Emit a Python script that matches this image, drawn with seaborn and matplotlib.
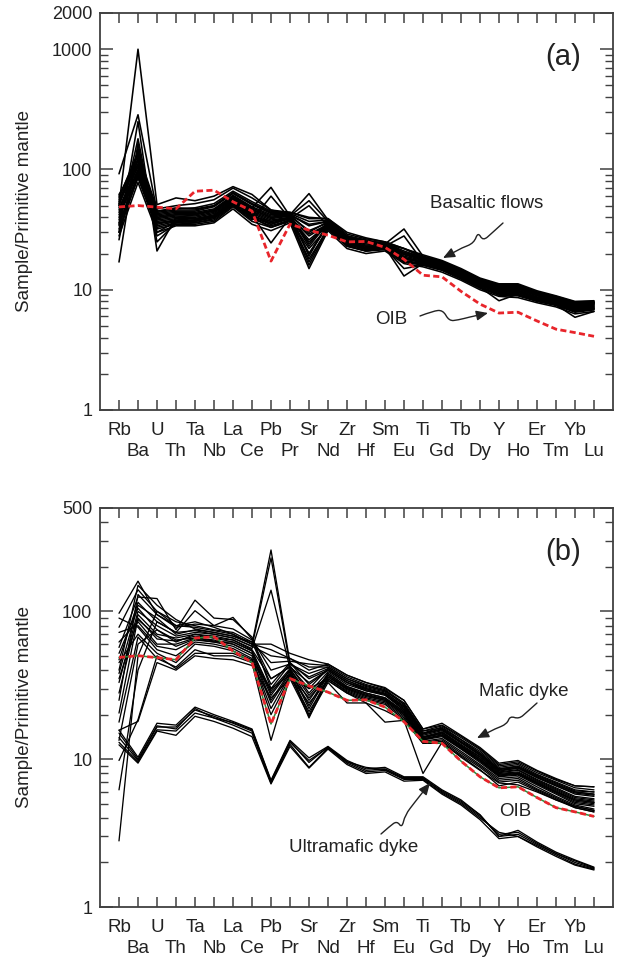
import numpy as np
import pandas as pd
import matplotlib
matplotlib.use("Agg")
import matplotlib.pyplot as plt
import seaborn as sns
from matplotlib.path import Path
from matplotlib.patches import FancyArrowPatch
from matplotlib.ticker import LogLocator, NullFormatter, FixedLocator, FixedFormatter

# ---------------- data ----------------
elements = ["Rb", "Ba", "U", "Th", "Ta", "Nb", "La", "Ce", "Pb", "Pr", "Sr", "Nd", "Zr",
            "Hf", "Sm", "Eu", "Ti", "Gd", "Tb", "Dy", "Y", "Ho", "Er", "Tm", "Yb", "Lu"]

oib = [48.8, 50.1, 48.6, 47.1, 65.9, 67.3, 53.9, 45.1, 17.3, 35.1, 31.3, 28.4, 25.0,
       25.2, 22.5, 17.9, 13.2, 12.8, 9.7, 7.6, 6.4, 6.5, 5.5, 4.7, 4.4, 4.1]

basaltic_flows = {
    "BF01": [28, 78, 30, 34, 34, 36, 47, 35, 31, 36, 15, 31, 22, 20, 21, 16.5, 15.5, 14.0, 12.0, 10.0, 8.8, 8.6, 7.8, 7.2, 6.3, 6.6],
    "BF02": [32, 85, 32, 35, 35, 37, 49, 37, 33, 37, 18, 32, 23, 21, 21.5, 17, 16, 14.5, 12.3, 10.3, 9.0, 8.9, 8.0, 7.4, 6.5, 6.8],
    "BF03": [36, 90, 33, 36, 36, 39, 51, 39, 34, 38, 22, 33, 24, 21.5, 22, 17.5, 16.5, 14.8, 12.6, 10.6, 9.3, 9.2, 8.2, 7.6, 6.7, 7.0],
    "BF04": [40, 95, 35, 38, 37, 40, 53, 41, 36, 39, 25, 34, 24.5, 22, 22.5, 18, 16.8, 15.1, 12.9, 10.9, 9.6, 9.5, 8.4, 7.8, 6.9, 7.1],
    "BF05": [44, 100, 37, 39, 39, 42, 55, 43, 37, 40, 28, 35, 25, 23, 23, 18.5, 17.2, 15.5, 13.2, 11.1, 9.9, 9.8, 8.7, 8.0, 7.1, 7.3],
    "BF06": [48, 105, 39, 41, 41, 44, 57, 45, 39, 41, 31, 36, 26, 23.5, 23.5, 19, 17.6, 15.9, 13.5, 11.4, 10.1, 10.1, 8.9, 8.2, 7.3, 7.5],
    "BF07": [52, 112, 41, 43, 43, 46, 60, 48, 41, 42, 34, 37, 27, 24.5, 24, 20, 18.0, 16.3, 13.9, 11.7, 10.4, 10.4, 9.1, 8.4, 7.5, 7.6],
    "BF08": [56, 120, 43, 45, 45, 49, 63, 51, 43, 43, 37, 38, 28, 25.5, 24.5, 21, 18.5, 16.8, 14.3, 12.0, 10.7, 10.7, 9.4, 8.6, 7.7, 7.8],
    "BF09": [60, 130, 45, 47, 48, 52, 66, 54, 45, 44, 39, 39, 29, 26.5, 25, 22, 19.0, 17.2, 14.7, 12.3, 11.0, 11.0, 9.6, 8.8, 7.9, 8.0],
    "BF10": [58, 140, 47, 50, 52, 56, 70, 58, 46, 44, 40, 39, 30, 27, 25, 22, 19.5, 17.5, 15.0, 12.5, 11.2, 11.2, 9.8, 8.9, 8.0, 8.1],
    "BF11": [50, 1000, 51, 58, 55, 60, 72, 62, 46, 42, 35, 37, 27, 25, 24, 20, 18, 16.5, 14, 11.8, 10.5, 10.5, 9.2, 8.5, 7.5, 7.7],
    "BF12": [92, 285, 45, 48, 47, 50, 64, 52, 44, 42, 63, 38, 28, 26, 24, 22, 18.5, 16.8, 14.2, 12, 10.8, 10.6, 9.3, 8.6, 7.6, 7.8],
    "BF13": [30, 250, 21, 40, 42, 46, 60, 48, 71, 41, 55, 37, 27, 25, 24, 32, 19, 17, 14.5, 12.2, 10.8, 10.8, 9.5, 8.7, 7.7, 7.9],
    "BF14": [17, 165, 25, 36, 38, 41, 55, 42, 24.5, 40, 20, 35, 25, 22, 22.5, 13, 16.5, 15, 12.5, 10.5, 8.1, 9.2, 8.1, 7.5, 5.9, 6.6],
    "BF15": [26, 150, 28, 35, 36, 38, 50, 38, 60, 39, 50, 34, 24, 22, 23, 28, 17, 15.5, 13, 11, 9.7, 9.6, 8.5, 7.8, 7.0, 7.2],
    "BF16": [35, 180, 30, 37, 37, 40, 52, 40, 35, 40, 17, 33, 23, 21, 22, 15, 16, 14.6, 12.4, 10.4, 9.2, 9.1, 8.1, 7.5, 6.6, 6.9],
    "BF17": [42, 98, 36, 37, 38, 41, 54, 42, 35, 39, 20, 34, 24, 22, 22, 17, 16.6, 15, 12.8, 10.8, 9.5, 9.3, 8.3, 7.7, 6.8, 7.0],
    "BF18": [46, 108, 38, 40, 40, 43, 56, 44, 38, 40, 26, 35, 25.5, 23, 23, 18.5, 17.3, 15.6, 13.3, 11.2, 9.9, 9.9, 8.7, 8.1, 7.2, 7.4],
    "BF19": [54, 118, 42, 44, 44, 47, 61, 49, 42, 42, 30, 37, 27.5, 25, 24, 20, 18.2, 16.5, 14.0, 11.8, 10.5, 10.5, 9.2, 8.5, 7.6, 7.7],
    "BF20": [38, 125, 40, 42, 43, 45, 58, 46, 40, 41, 23, 36, 26.5, 24, 23.5, 19.5, 17.8, 16.1, 13.7, 11.5, 10.2, 10.2, 9.0, 8.3, 7.4, 7.5],
    "BF21": [34, 92, 34, 37, 38, 40, 52, 40, 33, 38, 16, 32, 23.5, 21, 22, 17, 16.2, 14.7, 12.5, 10.5, 9.2, 9.0, 8.1, 7.5, 6.6, 6.9],
    "BF22": [50, 135, 44, 46, 46, 50, 64, 52, 44, 43, 19, 36, 27, 25, 24.5, 20.5, 18.6, 16.9, 14.4, 12.1, 10.8, 10.8, 9.5, 8.7, 7.8, 7.9],
    "BF23": [62, 110, 40, 42, 42, 45, 59, 47, 40, 42, 24, 37, 28, 25, 24, 19.8, 18.3, 16.6, 14.1, 11.9, 10.6, 10.6, 9.3, 8.6, 7.6, 7.8],
    "BF24": [30, 88, 36, 38, 39, 41, 53, 41, 37, 39, 29, 35, 25, 22.5, 23, 18.2, 17.0, 15.3, 13.0, 11.0, 9.8, 9.7, 8.6, 7.9, 7.0, 7.2],
}

mafic_dykes = {
    "MD01": [97, 160, 95, 80, 85, 78, 70, 60, 55, 48, 40, 44, 37, 33, 30, 25, 16, 17.5, 14.5, 12.0, 9.4, 9.8, 8.4, 7.4, 6.6, 6.5],
    "MD02": [78, 140, 100, 85, 80, 75, 72, 62, 45, 46, 44, 43, 36, 32, 29.5, 24, 15.5, 16.8, 14, 11.6, 9.0, 9.4, 8.1, 7.2, 6.4, 6.2],
    "MD03": [57, 125, 122, 75, 119, 90, 88, 67, 30, 44, 38, 42, 35, 31, 29, 23.5, 15, 16.5, 13.6, 11.3, 8.8, 9.2, 7.9, 7.0, 6.2, 6.0],
    "MD04": [47, 115, 85, 72, 101, 80, 76, 64, 35, 42, 30, 41, 34, 30, 28, 23, 15, 16, 13.2, 11, 8.6, 8.9, 7.7, 6.8, 6.0, 5.8],
    "MD05": [38, 110, 90, 70, 75, 72, 68, 60, 260, 45, 35, 40, 33, 29.5, 27.5, 22, 14.5, 15.6, 12.9, 10.7, 8.4, 8.7, 7.5, 6.6, 5.8, 5.6],
    "MD06": [33, 100, 80, 68, 72, 70, 66, 58, 230, 43, 28, 39, 32, 29, 27, 21.5, 14.2, 15.3, 12.6, 10.4, 8.2, 8.5, 7.3, 6.4, 5.6, 5.4],
    "MD07": [28, 95, 70, 66, 70, 68, 64, 56, 139, 41, 25, 38, 31, 28, 26, 21, 14, 15, 12.3, 10.1, 8.0, 8.2, 7.1, 6.2, 5.4, 5.2],
    "MD08": [20.5, 90, 65, 63, 68, 66, 62, 54, 28, 40, 22, 37, 30, 27, 25.5, 20.5, 13.7, 14.6, 12.0, 9.8, 7.8, 8.0, 6.9, 6.0, 5.2, 5.0],
    "MD09": [62, 85, 60, 60, 66, 64, 60, 52, 25, 39, 20, 36, 29.5, 26.5, 25, 20, 13.5, 14.2, 11.7, 9.5, 7.6, 7.8, 6.7, 5.8, 5.0, 4.8],
    "MD10": [72, 80, 58, 55, 64, 62, 58, 50, 24, 38, 19, 35, 29, 26, 24.5, 19.5, 13.2, 13.8, 11.3, 9.2, 7.4, 7.6, 6.5, 5.6, 4.9, 4.6],
    "MD11": [90, 78, 55, 50, 62, 60, 56, 48, 22, 37, 30, 35, 28.5, 25.5, 24, 19, 13, 13.5, 11, 9.0, 7.2, 7.4, 6.3, 5.5, 4.8, 4.5],
    "MD12": [45, 70, 52, 45, 60, 58, 54, 47, 20, 36, 24, 34, 28, 25, 23.5, 18.5, 12.8, 13.2, 10.7, 8.8, 7.0, 7.2, 6.2, 5.4, 4.7, 4.4],
    "MD13": [17.8, 67, 48, 42, 55, 50, 50, 45, 13.4, 36, 21, 34, 28, 24, 17.8, 18.3, 8.0, 13, 10.3, 8.4, 6.9, 6.7, 6.0, 5.3, 4.7, 4.4],
    "MD14": [15.7, 18, 45, 40, 50, 48, 47, 43, 26, 35, 19.5, 33, 24, 24, 21.3, 18.3, 12.8, 12.8, 10.5, 8.5, 6.6, 7.0, 6.1, 5.3, 4.8, 4.5],
    "MD15": [9.8, 18.5, 50, 41, 52, 52, 52, 46, 30, 37, 26, 36, 30, 27, 25, 20, 13.5, 14.5, 12, 9.8, 7.8, 8.0, 6.9, 6.0, 5.3, 5.1],
    "MD16": [2.8, 50, 100, 80, 78, 74, 70, 60, 60, 52, 47, 44, 37, 33, 30.5, 25, 16, 17, 14.3, 11.8, 9.2, 9.6, 8.3, 7.3, 6.6, 6.5],
    "MD17": [6.2, 40, 85, 72, 74, 70, 66, 58, 50, 48, 42, 42, 35, 31.5, 29, 23.5, 15.5, 16.2, 13.5, 11, 8.6, 9, 7.8, 6.9, 6.1, 6.0],
    "MD18": [13.4, 60, 75, 62, 70, 66, 64, 55, 35, 42, 33, 40, 33, 30, 27.5, 22.5, 14.8, 15.8, 13, 10.6, 8.3, 8.7, 7.5, 6.6, 5.9, 5.7],
    "MD19": [25, 130, 95, 78, 82, 80, 91, 65, 40, 44, 36, 41, 34, 30.5, 28.5, 22.5, 14.8, 16, 13, 10.8, 8.5, 8.8, 7.6, 6.7, 6.0, 5.8],
    "MD20": [40, 150, 110, 88, 76, 72, 68, 62, 32, 45, 32, 40, 33, 29, 27.5, 21.5, 14, 15.2, 12.4, 10.3, 8.1, 8.4, 7.2, 6.3, 5.5, 5.3],
    "MD21": [52, 105, 75, 64, 66, 63, 60, 52, 27, 40, 23, 38, 31, 28, 26, 21, 14, 14.8, 12.2, 10.0, 7.9, 8.1, 7.0, 6.1, 5.3, 5.1],
    "MD22": [35, 88, 68, 58, 65, 62, 62, 54, 29, 41, 27, 37, 30.5, 27.5, 25.5, 20.5, 13.8, 14.4, 11.8, 9.7, 7.7, 7.9, 6.8, 5.9, 5.1, 4.9],
}

ultramafic_dykes = {
    "UD01": [15.7, 10.3, 17.5, 17, 22.5, 20, 18, 16, 7.2, 13.4, 10.2, 12.2, 9.8, 8.6, 8.8, 7.6, 7.6, 6.2, 5.3, 4.2, 3.0, 3.3, 2.75, 2.35, 2.08, 1.86],
    "UD02": [14, 9.8, 16.5, 16.5, 21.5, 19.5, 17.5, 15.5, 7.0, 13, 9.8, 12, 9.6, 8.4, 8.6, 7.5, 7.5, 6.0, 5.1, 4.1, 3.1, 3.2, 2.7, 2.3, 2.0, 1.82],
    "UD03": [13, 9.6, 15.8, 15.5, 20.5, 19, 17, 15, 6.9, 12.6, 8.8, 11.9, 9.4, 8.2, 8.4, 7.3, 7.3, 5.9, 5.0, 4.0, 3.2, 3.0, 2.6, 2.25, 1.95, 1.8],
    "UD04": [12.5, 9.4, 15.5, 14.5, 19.5, 18, 16.2, 14.2, 6.8, 12.2, 8.7, 11.7, 9.2, 8.0, 8.2, 7.1, 7.2, 5.8, 4.9, 3.9, 2.9, 3.0, 2.55, 2.2, 1.92, 1.78],
    "UD05": [15, 10, 16.8, 16, 22, 19, 17.7, 15.8, 7.1, 13.2, 9.5, 12.1, 9.6, 8.8, 8.5, 7.4, 7.4, 6.1, 5.2, 4.2, 3.0, 3.1, 2.65, 2.3, 2.05, 1.84],
}

yticks_a = [1, 10, 100, 1000, 2000]
yticks_b = [1, 10, 100, 500]


def to_long(groups):
    rows = []
    for name, vals in groups.items():
        for i, v in enumerate(vals):
            rows.append({"sample": name, "pos": i, "element": elements[i], "value": v})
    return pd.DataFrame(rows)


df_a = to_long(basaltic_flows)
df_b = to_long({**mafic_dykes, **ultramafic_dykes})
df_oib = pd.DataFrame({"pos": np.arange(len(elements)), "value": oib})

# ---------------- style ----------------
sns.set_style("ticks")
plt.rcParams["font.family"] = ["Liberation Sans", "DejaVu Sans"]
TXT = "#222222"
FRAME = "#404040"

W, H = 617, 960
fig = plt.figure(figsize=(W / 100, H / 100), dpi=100)


def fx(x):
    return x / W


def fy(y):
    return 1 - y / H


ax_a = fig.add_axes([fx(100), fy(410), (613 - 100) / W, (410 - 13) / H])
ax_b = fig.add_axes([fx(100), fy(907), (613 - 100) / W, (907 - 508) / H])


def style_axes(ax, ylim, yticks):
    ax.set_yscale("log")
    ax.set_xlim(-1, len(elements))
    ax.set_ylim(*ylim)
    ax.yaxis.set_major_locator(FixedLocator(yticks))
    ax.yaxis.set_major_formatter(FixedFormatter([str(t) for t in yticks]))
    ax.yaxis.set_minor_locator(LogLocator(base=10, subs=np.arange(2, 10)))
    ax.yaxis.set_minor_formatter(NullFormatter())
    # upper row of element labels on major ticks, lower row on minor ticks
    even = list(range(0, len(elements), 2))
    odd = list(range(1, len(elements), 2))
    ax.xaxis.set_major_locator(FixedLocator(even))
    ax.xaxis.set_major_formatter(FixedFormatter([elements[i] for i in even]))
    ax.xaxis.set_minor_locator(FixedLocator(odd))
    ax.xaxis.set_minor_formatter(FixedFormatter([elements[i] for i in odd]))
    ax.tick_params(axis="x", which="major", direction="in", length=7, width=1.1,
                   top=True, bottom=True, color=FRAME, pad=8.5, labelsize=13.5, labelcolor=TXT)
    ax.tick_params(axis="x", which="minor", direction="in", length=7, width=1.1,
                   top=True, bottom=True, color=FRAME, pad=24, labelsize=13.5, labelcolor=TXT)
    ax.tick_params(axis="y", which="major", direction="in", length=9.5, width=1.1,
                   left=True, right=True, color=FRAME, labelsize=13, labelcolor=TXT, pad=5.5)
    ax.tick_params(axis="y", which="minor", direction="in", length=5.5, width=1.0,
                   left=True, right=True, color=FRAME)
    for s in ax.spines.values():
        s.set_color(FRAME)
        s.set_linewidth(1.3)
    ax.set_xlabel("")
    ax.set_ylabel("Sample/Primitive mantle", fontsize=13.5, color=TXT)
    ax.yaxis.set_label_coords(-0.131, 0.5)


# ---------------- panel (a) ----------------
sns.lineplot(data=df_a, x="pos", y="value", units="sample", estimator=None,
             color="black", linewidth=1.15, legend=False, ax=ax_a, sort=False)
sns.lineplot(data=df_oib, x="pos", y="value", color="#e8252b", linewidth=2.0,
             linestyle=(0, (2.2, 1.2)), legend=False, ax=ax_a, sort=False)
style_axes(ax_a, (1, 2000), yticks_a)

# ---------------- panel (b) ----------------
sns.lineplot(data=df_b, x="pos", y="value", units="sample", estimator=None,
             color="black", linewidth=0.95, legend=False, ax=ax_b, sort=False)
sns.lineplot(data=df_oib, x="pos", y="value", color="#2f8a3a", linewidth=1.1,
             legend=False, ax=ax_b, sort=False)
sns.lineplot(data=df_oib, x="pos", y="value", color="#e8252b", linewidth=2.0,
             linestyle=(0, (2.2, 1.2)), legend=False, ax=ax_b, sort=False)
style_axes(ax_b, (1, 500), yticks_b)

# ---------------- annotations ----------------
fig.text(fx(563), fy(57), "(a)", fontsize=21, color=TXT, ha="center", va="center")
fig.text(fx(563), fy(552), "(b)", fontsize=21, color=TXT, ha="center", va="center")

fig.text(fx(487), fy(203), "Basaltic flows", fontsize=13.5, color=TXT, ha="center", va="center")
fig.text(fx(391), fy(319), "OIB", fontsize=13.5, color=TXT, ha="center", va="center")
fig.text(fx(524), fy(692), "Mafic dyke", fontsize=13.5, color=TXT, ha="center", va="center")
fig.text(fx(515), fy(812), "OIB", fontsize=13.5, color=TXT, ha="center", va="center")
fig.text(fx(354), fy(847), "Ultramafic dyke", fontsize=13.5, color=TXT, ha="center", va="center")


def squiggle_arrow(pts):
    pts = [(fx(x), fy(y)) for x, y in pts]
    verts = [pts[0]]
    codes = [Path.MOVETO]
    for i in range(1, len(pts) - 2):
        mid = ((pts[i][0] + pts[i + 1][0]) / 2, (pts[i][1] + pts[i + 1][1]) / 2)
        verts += [pts[i], mid]
        codes += [Path.CURVE3, Path.CURVE3]
    verts.append(pts[-2])
    codes.append(Path.LINETO)
    verts.append(pts[-1])
    codes.append(Path.LINETO)
    p = FancyArrowPatch(path=Path(verts, codes), arrowstyle="-|>,head_length=0.7,head_width=0.3",
                        mutation_scale=10, color=TXT, linewidth=1.0, transform=fig.transFigure)
    fig.add_artist(p)


squiggle_arrow([(503, 223), (492, 233), (483, 241), (478, 232), (474, 243), (462, 248), (443, 258)])
squiggle_arrow([(420, 316), (433, 311), (443, 310), (449, 321), (458, 320), (470, 317), (488, 313)])
squiggle_arrow([(537, 703), (527, 712), (519, 719), (510, 716), (507, 724), (495, 729), (477, 738)])
squiggle_arrow([(381, 834), (390, 826), (397, 821), (402, 828), (405, 815), (415, 802), (430, 783)])

fig.savefig("out.png", dpi=100, facecolor="white")
